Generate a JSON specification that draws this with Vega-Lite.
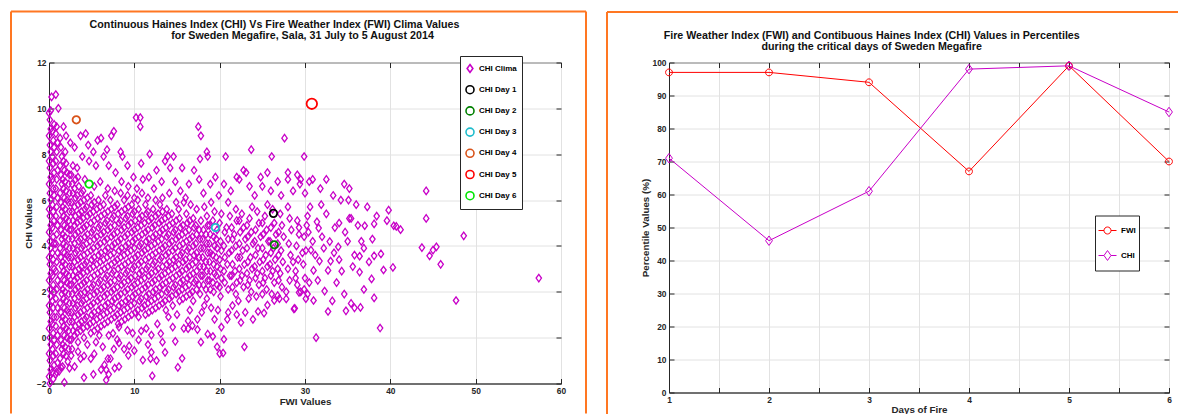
{
"$schema": "https://vega.github.io/schema/vega-lite/v6.json",
"background": "#ffffff",
"padding": {"left": 9, "top": 9.5, "right": 0, "bottom": 0},
"spacing": 17,
"columns": 2,
"bounds": "full",
"resolve": {"scale": {"color": "independent", "shape": "independent"}, "legend": {"color": "independent", "shape": "independent"}},
"config": {
  "view": {"stroke": "#262626", "strokeWidth": 1},
  "font": "Liberation Sans",
  "axis": {"labelFont": "Liberation Sans", "labelFontSize": 8.4, "labelFontWeight": "bold", "labelColor": "#262626", "titleFont": "Liberation Sans", "titleFontSize": 9.8, "titleFontWeight": "bold", "titleColor": "#262626", "gridColor": "#e2e2e2", "gridWidth": 1, "gridOpacity": 1, "tickColor": "#262626", "tickWidth": 1, "tickSize": -5, "labelPadding": 8, "domainColor": "#262626", "domainWidth": 1, "labelFlush": false, "labelOverlap": false},
  "legend": {"labelFont": "Liberation Sans", "labelFontSize": 8, "labelFontWeight": "bold", "labelColor": "#000000"}
},
"datasets": {
  "days": [{"s":"CHI Day 1","f":26.3,"c":5.42},{"s":"CHI Day 2","f":26.4,"c":4.05},{"s":"CHI Day 3","f":19.5,"c":4.8},{"s":"CHI Day 4","f":3.2,"c":9.5},{"s":"CHI Day 5","f":30.8,"c":10.2},{"s":"CHI Day 6","f":4.7,"c":6.7}],
  "pct": [{"d":1,"s":"FWI","v":97},{"d":2,"s":"FWI","v":97},{"d":3,"s":"FWI","v":94},{"d":4,"s":"FWI","v":67},{"d":5,"s":"FWI","v":99},{"d":6,"s":"FWI","v":70},{"d":1,"s":"CHI","v":71},{"d":2,"s":"CHI","v":46},{"d":3,"s":"CHI","v":61},{"d":4,"s":"CHI","v":98},{"d":5,"s":"CHI","v":99},{"d":6,"s":"CHI","v":85}],
  "clima": [
{"f":0.1,"c":-2},{"f":0,"c":-1.7},{"f":0.2,"c":-1.4},{"f":0.1,"c":-1},{"f":0,"c":-0.7},{"f":0.2,"c":-0.3},{"f":0.1,"c":0},{"f":0,"c":0.4},{"f":0.2,"c":0.7},{"f":0.1,"c":1.1},{"f":0,"c":1.4},{"f":0.2,"c":1.8},{"f":0.1,"c":2.1},{"f":0,"c":2.5},{"f":0.2,"c":2.8},{"f":0.1,"c":3.2},{"f":0,"c":3.5},{"f":0.2,"c":3.9},{"f":0.1,"c":4.2},{"f":0,"c":4.6},{"f":0.2,"c":4.9},{"f":0.1,"c":5.3},{"f":0,"c":5.6},{"f":0.2,"c":6},{"f":0.1,"c":6.3},{"f":0,"c":6.7},{"f":0.2,"c":7},{"f":0.1,"c":7.4},{"f":0,"c":7.7},{"f":0.2,"c":8.1},{"f":0.1,"c":8.4},{"f":0,"c":8.8},{"f":0.2,"c":9.1},{"f":0.1,"c":9.5},{"f":0,"c":9.8},
{"f":0.5,"c":-1.8},{"f":0.4,"c":-1.5},{"f":0.6,"c":-1.2},{"f":0.5,"c":-0.8},{"f":0.4,"c":-0.5},{"f":0.6,"c":-0.1},{"f":0.5,"c":0.2},{"f":0.4,"c":0.6},{"f":0.6,"c":0.9},{"f":0.5,"c":1.3},{"f":0.4,"c":1.6},{"f":0.6,"c":2},{"f":0.5,"c":2.3},{"f":0.4,"c":2.7},{"f":0.6,"c":3},{"f":0.5,"c":3.4},{"f":0.4,"c":3.7},{"f":0.6,"c":4.1},{"f":0.5,"c":4.4},{"f":0.4,"c":4.8},{"f":0.6,"c":5.1},{"f":0.5,"c":5.5},{"f":0.4,"c":5.8},{"f":0.6,"c":6.2},{"f":0.5,"c":6.5},{"f":0.4,"c":6.9},{"f":0.6,"c":7.2},{"f":0.5,"c":7.6},{"f":0.4,"c":7.9},{"f":0.6,"c":8.3},{"f":0.5,"c":8.6},{"f":0.4,"c":9},{"f":0.6,"c":9.3},
{"f":0.9,"c":-1.5},{"f":1,"c":-1.1},{"f":0.8,"c":-0.7},{"f":0.9,"c":-0.3},{"f":1,"c":0.1},{"f":0.8,"c":0.5},{"f":0.9,"c":0.9},{"f":1,"c":1.3},{"f":0.8,"c":1.7},{"f":0.9,"c":2.1},{"f":1,"c":2.5},{"f":0.8,"c":2.9},{"f":0.9,"c":3.3},{"f":1,"c":3.7},{"f":0.8,"c":4.1},{"f":0.9,"c":4.5},{"f":1,"c":4.9},{"f":0.8,"c":5.3},{"f":0.9,"c":5.7},{"f":1,"c":6.1},{"f":0.8,"c":6.5},{"f":0.9,"c":6.9},{"f":1,"c":7.3},{"f":0.8,"c":7.7},{"f":0.9,"c":8.1},{"f":1,"c":8.5},{"f":0.8,"c":8.9},{"f":0.9,"c":9.2},{"f":0.3,"c":10.5},{"f":0.8,"c":10.6},{"f":1.1,"c":10},{"f":0.2,"c":9.9},
{"f":1.4,"c":-1.3},{"f":1.3,"c":-0.9},{"f":1.5,"c":-0.5},{"f":1.4,"c":-0.1},{"f":1.3,"c":0.3},{"f":1.5,"c":0.7},{"f":1.4,"c":1.1},{"f":1.3,"c":1.5},{"f":1.5,"c":1.9},{"f":1.4,"c":2.3},{"f":1.3,"c":2.7},{"f":1.5,"c":3.1},{"f":1.4,"c":3.5},{"f":1.3,"c":3.9},{"f":1.5,"c":4.3},{"f":1.4,"c":4.7},{"f":1.3,"c":5.1},{"f":1.5,"c":5.5},{"f":1.4,"c":5.9},{"f":1.3,"c":6.3},{"f":1.5,"c":6.7},{"f":1.4,"c":7.1},{"f":1.3,"c":7.5},{"f":1.5,"c":7.9},{"f":1.4,"c":8.3},{"f":1.3,"c":8.7},
{"f":2,"c":-0.8},{"f":1.9,"c":-0.4},{"f":2.1,"c":0},{"f":2,"c":0.4},{"f":1.9,"c":0.8},{"f":2.1,"c":1.2},{"f":2,"c":1.6},{"f":1.9,"c":2},{"f":2.1,"c":2.4},{"f":2,"c":2.8},{"f":1.9,"c":3.2},{"f":2.1,"c":3.6},{"f":2,"c":4},{"f":1.9,"c":4.4},{"f":2.1,"c":4.8},{"f":2,"c":5.2},{"f":1.9,"c":5.6},{"f":2.1,"c":6},{"f":2,"c":6.4},{"f":1.9,"c":6.8},{"f":2.1,"c":7.2},{"f":2,"c":7.6},{"f":1.9,"c":8.1},
{"f":2.7,"c":-0.5},{"f":2.6,"c":-0.1},{"f":2.8,"c":0.3},{"f":2.7,"c":0.7},{"f":2.6,"c":1.1},{"f":2.8,"c":1.5},{"f":2.7,"c":1.9},{"f":2.6,"c":2.3},{"f":2.8,"c":2.7},{"f":2.7,"c":3.1},{"f":2.6,"c":3.5},{"f":2.8,"c":3.9},{"f":2.7,"c":4.3},{"f":2.6,"c":4.7},{"f":2.8,"c":5.1},{"f":2.7,"c":5.5},{"f":2.6,"c":5.9},{"f":2.8,"c":6.3},{"f":2.7,"c":6.7},{"f":2.6,"c":7.1},{"f":2.8,"c":7.5},
{"f":3.4,"c":-0.2},{"f":3.3,"c":0.2},{"f":3.5,"c":0.6},{"f":3.4,"c":1},{"f":3.3,"c":1.4},{"f":3.5,"c":1.8},{"f":3.4,"c":2.2},{"f":3.3,"c":2.6},{"f":3.5,"c":3},{"f":3.4,"c":3.4},{"f":3.3,"c":3.8},{"f":3.5,"c":4.2},{"f":3.4,"c":4.6},{"f":3.3,"c":5},{"f":3.5,"c":5.4},{"f":3.4,"c":5.8},{"f":3.3,"c":6.2},{"f":3.5,"c":6.6},{"f":3.4,"c":7},{"f":3.3,"c":7.4},
{"f":4.1,"c":0},{"f":4,"c":0.4},{"f":4.2,"c":0.8},{"f":4.1,"c":1.2},{"f":4,"c":1.6},{"f":4.2,"c":2},{"f":4.1,"c":2.4},{"f":4,"c":2.8},{"f":4.2,"c":3.2},{"f":4.1,"c":3.6},{"f":4,"c":4},{"f":4.2,"c":4.4},{"f":4.1,"c":4.8},{"f":4,"c":5.2},{"f":4.2,"c":5.6},{"f":4.1,"c":6},{"f":4,"c":6.4},{"f":4.2,"c":6.9},
{"f":4.9,"c":0.2},{"f":4.8,"c":0.6},{"f":5,"c":1},{"f":4.9,"c":1.4},{"f":4.8,"c":1.8},{"f":5,"c":2.2},{"f":4.9,"c":2.6},{"f":4.8,"c":3},{"f":5,"c":3.4},{"f":4.9,"c":3.8},{"f":4.8,"c":4.2},{"f":5,"c":4.6},{"f":4.9,"c":5},{"f":4.8,"c":5.4},{"f":5,"c":5.8},{"f":4.9,"c":6.2},
{"f":5.7,"c":0.4},{"f":5.6,"c":0.8},{"f":5.8,"c":1.2},{"f":5.7,"c":1.6},{"f":5.6,"c":2},{"f":5.8,"c":2.4},{"f":5.7,"c":2.8},{"f":5.6,"c":3.2},{"f":5.8,"c":3.6},{"f":5.7,"c":4},{"f":5.6,"c":4.4},{"f":5.8,"c":4.8},{"f":5.7,"c":5.2},{"f":5.6,"c":5.6},{"f":5.8,"c":6},
{"f":6.5,"c":0.6},{"f":6.4,"c":1},{"f":6.6,"c":1.4},{"f":6.5,"c":1.8},{"f":6.4,"c":2.2},{"f":6.6,"c":2.6},{"f":6.5,"c":3},{"f":6.4,"c":3.4},{"f":6.6,"c":3.8},{"f":6.5,"c":4.2},{"f":6.4,"c":4.6},{"f":6.6,"c":5},{"f":6.5,"c":5.4},{"f":6.4,"c":5.8},{"f":6.6,"c":6.2},
{"f":7.3,"c":0.8},{"f":7.2,"c":1.2},{"f":7.4,"c":1.6},{"f":7.3,"c":2},{"f":7.2,"c":2.4},{"f":7.4,"c":2.8},{"f":7.3,"c":3.2},{"f":7.2,"c":3.6},{"f":7.4,"c":4},{"f":7.3,"c":4.4},{"f":7.2,"c":4.8},{"f":7.4,"c":5.2},{"f":7.3,"c":5.6},{"f":7.2,"c":6},
{"f":8.1,"c":0.6},{"f":8,"c":1},{"f":8.2,"c":1.4},{"f":8.1,"c":1.8},{"f":8,"c":2.2},{"f":8.2,"c":2.6},{"f":8.1,"c":3},{"f":8,"c":3.4},{"f":8.2,"c":3.8},{"f":8.1,"c":4.2},{"f":8,"c":4.6},{"f":8.2,"c":5},{"f":8.1,"c":5.4},{"f":8,"c":5.8},
{"f":8.9,"c":0.8},{"f":8.8,"c":1.2},{"f":9,"c":1.6},{"f":8.9,"c":2},{"f":8.8,"c":2.4},{"f":9,"c":2.8},{"f":8.9,"c":3.2},{"f":8.8,"c":3.6},{"f":9,"c":4},{"f":8.9,"c":4.4},{"f":8.8,"c":4.8},{"f":9,"c":5.2},{"f":8.9,"c":5.6},{"f":8.8,"c":6},
{"f":9.7,"c":1},{"f":9.6,"c":1.4},{"f":9.8,"c":1.8},{"f":9.7,"c":2.2},{"f":9.6,"c":2.6},{"f":9.8,"c":3},{"f":9.7,"c":3.4},{"f":9.6,"c":3.8},{"f":9.8,"c":4.2},{"f":9.7,"c":4.6},{"f":9.6,"c":5},{"f":9.8,"c":5.4},{"f":9.7,"c":5.8},
{"f":10.5,"c":0.9},{"f":10.4,"c":1.2},{"f":10.6,"c":1.6},{"f":10.5,"c":2},{"f":10.4,"c":2.4},{"f":10.6,"c":2.8},{"f":10.5,"c":3.2},{"f":10.4,"c":3.6},{"f":10.6,"c":4},{"f":10.5,"c":4.4},{"f":10.4,"c":4.8},{"f":10.6,"c":5.2},{"f":10.5,"c":5.6},{"f":10.4,"c":6},
{"f":11.3,"c":1},{"f":11.2,"c":1.4},{"f":11.4,"c":1.8},{"f":11.3,"c":2.2},{"f":11.2,"c":2.6},{"f":11.4,"c":3},{"f":11.3,"c":3.4},{"f":11.2,"c":3.8},{"f":11.4,"c":4.2},{"f":11.3,"c":4.6},{"f":11.2,"c":5},{"f":11.4,"c":5.4},{"f":11.3,"c":5.8},
{"f":12.1,"c":1.2},{"f":12,"c":1.6},{"f":12.2,"c":2},{"f":12.1,"c":2.4},{"f":12,"c":2.8},{"f":12.2,"c":3.2},{"f":12.1,"c":3.6},{"f":12,"c":4},{"f":12.2,"c":4.4},{"f":12.1,"c":4.8},{"f":12,"c":5.2},{"f":12.2,"c":5.6},
{"f":12.9,"c":1.4},{"f":12.8,"c":1.8},{"f":13,"c":2.2},{"f":12.9,"c":2.6},{"f":12.8,"c":3},{"f":13,"c":3.4},{"f":12.9,"c":3.8},{"f":12.8,"c":4.2},{"f":13,"c":4.6},{"f":12.9,"c":5},{"f":12.8,"c":5.4},{"f":13,"c":5.8},
{"f":13.7,"c":1.2},{"f":13.6,"c":1.6},{"f":13.8,"c":2},{"f":13.7,"c":2.4},{"f":13.6,"c":2.8},{"f":13.8,"c":3.2},{"f":13.7,"c":3.6},{"f":13.6,"c":4},{"f":13.8,"c":4.4},{"f":13.7,"c":4.8},{"f":13.6,"c":5.2},{"f":13.8,"c":5.6},
{"f":14.5,"c":1.4},{"f":14.4,"c":1.8},{"f":14.6,"c":2.2},{"f":14.5,"c":2.6},{"f":14.4,"c":3},{"f":14.6,"c":3.4},{"f":14.5,"c":3.8},{"f":14.4,"c":4.2},{"f":14.6,"c":4.6},{"f":14.5,"c":5},{"f":14.4,"c":5.4},
{"f":15.3,"c":1.6},{"f":15.2,"c":2},{"f":15.4,"c":2.4},{"f":15.3,"c":2.8},{"f":15.2,"c":3.2},{"f":15.4,"c":3.6},{"f":15.3,"c":4},{"f":15.2,"c":4.4},{"f":15.4,"c":4.8},{"f":15.3,"c":5.2},{"f":15.2,"c":5.6},
{"f":16.1,"c":1.8},{"f":16,"c":2.2},{"f":16.2,"c":2.6},{"f":16.1,"c":3},{"f":16,"c":3.4},{"f":16.2,"c":3.8},{"f":16.1,"c":4.2},{"f":16,"c":4.6},{"f":16.2,"c":5},{"f":16.1,"c":5.4},
{"f":16.9,"c":1.6},{"f":16.8,"c":2},{"f":17,"c":2.4},{"f":16.9,"c":2.8},{"f":16.8,"c":3.2},{"f":17,"c":3.6},{"f":16.9,"c":4},{"f":16.8,"c":4.4},{"f":17,"c":4.8},{"f":16.9,"c":5.2},
{"f":17.7,"c":1.9},{"f":17.6,"c":2.3},{"f":17.8,"c":2.7},{"f":17.7,"c":3.1},{"f":17.6,"c":3.5},{"f":17.8,"c":3.9},{"f":17.7,"c":4.3},{"f":17.6,"c":4.7},{"f":17.8,"c":5.1},
{"f":18.5,"c":1.7},{"f":18.4,"c":2.1},{"f":18.6,"c":2.5},{"f":18.5,"c":2.9},{"f":18.4,"c":3.3},{"f":18.6,"c":3.7},{"f":18.5,"c":4.1},{"f":18.4,"c":4.5},{"f":18.6,"c":4.9},{"f":18.5,"c":5.3},
{"f":19.3,"c":2},{"f":19.2,"c":2.4},{"f":19.4,"c":2.8},{"f":19.3,"c":3.2},{"f":19.2,"c":3.6},{"f":19.4,"c":4},{"f":19.3,"c":4.4},{"f":19.2,"c":5.1},{"f":19.4,"c":5.5},
{"f":20.1,"c":1.8},{"f":20,"c":2.2},{"f":20.2,"c":2.6},{"f":20.1,"c":3},{"f":20,"c":3.4},{"f":20.2,"c":3.8},{"f":20.1,"c":4.2},{"f":20,"c":5},{"f":20.2,"c":5.4},
{"f":21,"c":2.1},{"f":21.2,"c":2.7},{"f":20.9,"c":3.2},{"f":21.1,"c":3.7},{"f":21,"c":4.3},{"f":20.8,"c":4.8},{"f":21.2,"c":5.3},{"f":21,"c":5.9},
{"f":21.9,"c":1.9},{"f":22,"c":2.4},{"f":21.8,"c":2.9},{"f":22.1,"c":3.5},{"f":21.9,"c":4},{"f":21.7,"c":4.5},{"f":22,"c":5.1},{"f":21.9,"c":5.6},
{"f":22.8,"c":2.2},{"f":22.6,"c":2.7},{"f":22.9,"c":3.2},{"f":22.7,"c":3.8},{"f":23,"c":4.3},{"f":22.8,"c":4.8},{"f":22.6,"c":5.4},
{"f":23.7,"c":2},{"f":23.5,"c":2.5},{"f":23.8,"c":3},{"f":23.6,"c":3.5},{"f":23.9,"c":4.1},{"f":23.7,"c":4.6},{"f":23.5,"c":5.2},{"f":23.8,"c":5.7},
{"f":24.6,"c":2.3},{"f":24.4,"c":2.8},{"f":24.7,"c":3.3},{"f":24.5,"c":3.9},{"f":24.8,"c":4.4},{"f":24.6,"c":5},{"f":24.4,"c":5.5},
{"f":25.5,"c":2.1},{"f":25.3,"c":2.6},{"f":25.6,"c":3.1},{"f":25.4,"c":3.6},{"f":25.7,"c":4.2},{"f":25.5,"c":4.7},{"f":25.3,"c":5.3},{"f":25.6,"c":5.8},
{"f":26.4,"c":2.4},{"f":26.2,"c":2.9},{"f":26.5,"c":3.4},{"f":26.3,"c":3.9},{"f":26.6,"c":4.5},{"f":26.4,"c":5},{"f":26.2,"c":5.6},
{"f":27.3,"c":2.2},{"f":27.1,"c":2.8},{"f":27.4,"c":3.3},{"f":27.2,"c":3.8},{"f":27.5,"c":4.4},{"f":27.3,"c":4.9},{"f":27.1,"c":5.4},
{"f":28.2,"c":2.5},{"f":28,"c":3},{"f":28.3,"c":3.6},{"f":28.1,"c":4.1},{"f":28.4,"c":4.7},{"f":28.2,"c":5.2},{"f":28,"c":5.7},
{"f":29.1,"c":2.3},{"f":28.9,"c":2.9},{"f":29.2,"c":3.4},{"f":29,"c":4},{"f":29.3,"c":4.5},{"f":29.1,"c":5.1},
{"f":30,"c":2.6},{"f":29.8,"c":3.2},{"f":30.1,"c":3.8},{"f":29.9,"c":4.4},{"f":30.2,"c":4.9},
{"f":1.7,"c":9.2},{"f":2,"c":8.8},{"f":2.5,"c":8.5},{"f":3,"c":8.3},{"f":3.7,"c":8.8},{"f":4.3,"c":8.9},{"f":4.6,"c":8.4},{"f":5.2,"c":8.1},{"f":5.7,"c":8.6},{"f":6.1,"c":8.7},{"f":6.8,"c":8.2},{"f":7.3,"c":8.8},{"f":7.6,"c":9},{"f":6.4,"c":7.9},{"f":5.5,"c":7.5},{"f":4.7,"c":7.7},{"f":3.9,"c":7.9},{"f":7,"c":7.5},{"f":7.8,"c":7.2},{"f":8.4,"c":8.1},{"f":8.6,"c":7.9},{"f":9.2,"c":7.5},{"f":8.5,"c":6.8},{"f":9.3,"c":6.6},{"f":9.9,"c":7},{"f":10.2,"c":9.6},{"f":10.7,"c":9.6},{"f":10.7,"c":9.2},{"f":10.8,"c":7.6},{"f":10.3,"c":6.5},{"f":11,"c":6.9},{"f":11.8,"c":8},{"f":11.7,"c":7},{"f":12.3,"c":6.5},{"f":12.6,"c":7.3},{"f":13.2,"c":6.8},{"f":13.6,"c":7.7},{"f":13.9,"c":7.9},{"f":14.2,"c":7.4},{"f":14.6,"c":7.9},{"f":14.1,"c":6.3},{"f":14.8,"c":6.8},{"f":15.4,"c":6.4},{"f":15.6,"c":7.4},{"f":16,"c":6.1},{"f":16.4,"c":6.7},{"f":17,"c":7.3},{"f":17.5,"c":9.2},{"f":17.8,"c":8.8},{"f":17.7,"c":7.8},{"f":17.6,"c":6.9},{"f":18.1,"c":6.3},{"f":18.5,"c":8.1},{"f":18.6,"c":7.9},{"f":18.9,"c":6.7},{"f":19.5,"c":7},{"f":19.9,"c":6.2},{"f":20.7,"c":7.9},{"f":20.5,"c":6.7},{"f":21.3,"c":6.4},{"f":22,"c":7},{"f":22.3,"c":6.9},{"f":22.8,"c":7.3},{"f":23.1,"c":7.2},{"f":23.7,"c":8.2},{"f":23.5,"c":6.6},{"f":24.1,"c":6.2},{"f":24.8,"c":7},{"f":25,"c":6.6},{"f":25.6,"c":7.2},{"f":26.1,"c":7.9},{"f":26,"c":6.4},{"f":26.8,"c":6.8},{"f":27.6,"c":8.7},{"f":27.2,"c":6.2},{"f":28,"c":7.2},{"f":28,"c":6.9},{"f":28.6,"c":6.4},{"f":29.1,"c":7.1},{"f":29.5,"c":6.9},{"f":29.4,"c":6.7},{"f":29.9,"c":7.9},{"f":30,"c":6.3},{"f":30.5,"c":6.8},{"f":30.9,"c":6.9},{"f":30.6,"c":5.7},{"f":31.8,"c":6.5},{"f":32.5,"c":6.9},{"f":33.3,"c":6.2},{"f":34.6,"c":6.7},{"f":35.2,"c":6.5},{"f":34.2,"c":6},{"f":35.1,"c":6},{"f":36,"c":5.8},
{"f":5.3,"c":6.6},{"f":6,"c":6.8},{"f":6.9,"c":6.5},{"f":7.7,"c":6.4},{"f":8.4,"c":6.3},{"f":9.2,"c":6.2},{"f":10,"c":6.1},{"f":10.9,"c":6.3},{"f":11.6,"c":6.1},{"f":12.5,"c":6},{"f":13.3,"c":6.1},{"f":14.9,"c":5.9},{"f":15.8,"c":5.9},{"f":16.6,"c":5.8},{"f":17.3,"c":5.6},{"f":18.2,"c":5.7},{"f":19,"c":5.9},
{"f":31.4,"c":5.05},{"f":31.6,"c":4.78},{"f":32.9,"c":4.19},{"f":33.9,"c":3.96},{"f":33.4,"c":3.7},{"f":33,"c":3.34},{"f":32.7,"c":2.93},{"f":35.8,"c":3.6},{"f":36.4,"c":3.55},{"f":35.6,"c":3.1},{"f":36.4,"c":2.86},{"f":36.9,"c":2.1},{"f":34.6,"c":1.9},{"f":35.4,"c":1.49},{"f":34.8,"c":1.17},{"f":35.8,"c":1.3},{"f":36.5,"c":1.32},{"f":37.9,"c":4.3},{"f":38.4,"c":5.3},{"f":38.1,"c":4.96},{"f":37,"c":4.88},{"f":37.5,"c":3.3},{"f":38.1,"c":3.57},{"f":38.9,"c":3.65},{"f":37.8,"c":2.56},{"f":38.1,"c":1.73},{"f":38.8,"c":0.42},{"f":39.2,"c":2.95},{"f":40.3,"c":3.06},{"f":39.6,"c":5.1},{"f":39.8,"c":5.56},{"f":40.4,"c":4.88},{"f":40.7,"c":4.85},{"f":41.2,"c":4.71},{"f":35.2,"c":5.2},{"f":35.4,"c":5.2},{"f":34,"c":5},{"f":34.7,"c":4.6},{"f":30.7,"c":3.82},{"f":31.7,"c":3.34},{"f":31,"c":2.93},{"f":32.3,"c":2.03},{"f":32.7,"c":1.14},{"f":31,"c":1.62},{"f":28.7,"c":1.25},{"f":31.3,"c":0},
{"f":44.2,"c":6.4},{"f":44.2,"c":5.2},{"f":43.7,"c":3.93},{"f":44.6,"c":3.57},{"f":45,"c":3.82},{"f":45.4,"c":3.96},{"f":45.9,"c":3.2},{"f":48.6,"c":4.44},{"f":47.7,"c":1.62},{"f":57.4,"c":2.6},
{"f":30.4,"c":4.6},{"f":30.9,"c":4.2},{"f":31.2,"c":3.6},{"f":30.5,"c":2.4},{"f":31.5,"c":2.5},{"f":32,"c":4.4},{"f":32.2,"c":3.9},{"f":32.5,"c":5.4},{"f":33.5,"c":4.8},{"f":31.9,"c":5.8},{"f":30.3,"c":5.3},{"f":29.7,"c":3.7},{"f":29.5,"c":2},{"f":30.1,"c":1.7},{"f":29.3,"c":4.8},{"f":28.6,"c":3.3},{"f":28.9,"c":2.6},{"f":27.8,"c":2},{"f":27,"c":1.7},{"f":26.1,"c":1.9},{"f":33.7,"c":2.4},{"f":34.3,"c":2.9},{"f":33.2,"c":1.6},{"f":34,"c":3.4},{"f":35,"c":4.2},{"f":36.2,"c":4.9},{"f":36.6,"c":4.2},{"f":37.3,"c":5.7},{"f":36.9,"c":3.9},
{"f":22.9,"c":-0.4},{"f":20.5,"c":-0.07},{"f":20,"c":-0.7},{"f":20.4,"c":-0.67},{"f":18.6,"c":0.15},{"f":19.2,"c":0.05},{"f":17.4,"c":0.35},{"f":16.8,"c":0.52},{"f":16.3,"c":0.39},{"f":14.8,"c":-0.16},{"f":15.1,"c":-1.3},{"f":13.6,"c":-0.64},{"f":12.1,"c":-1.67},{"f":12,"c":-0.64},{"f":11.9,"c":-0.92},{"f":11,"c":-0.98},{"f":10,"c":-0.57},{"f":9.4,"c":-0.36},{"f":9.3,"c":-0.77},{"f":8.8,"c":-0.5},{"f":8.2,"c":-0.23},{"f":7.5,"c":0.19},{"f":8,"c":-0.09},{"f":6.9,"c":-0.92},{"f":7.2,"c":-0.92},{"f":6.5,"c":-1.19},{"f":6.1,"c":-1.4},{"f":6.7,"c":-1.4},{"f":7.7,"c":-1.33},{"f":8.2,"c":-1.26},{"f":6.7,"c":-1.85},{"f":4.1,"c":-1.74},{"f":1.8,"c":-1.95},{"f":5.3,"c":-0.71},{"f":4.9,"c":-0.92},{"f":4.1,"c":-0.8},{"f":3.7,"c":-0.92},{"f":3.4,"c":-0.61},{"f":2.6,"c":-0.78},{"f":2.2,"c":-1.05},{"f":3,"c":-1.26},{"f":2.4,"c":-1.33},{"f":1.6,"c":-1.26},{"f":1.2,"c":-1.46},{"f":0.8,"c":-1.6},
{"f":8.2,"c":0.46},{"f":9.2,"c":0.32},{"f":10.8,"c":0.29},{"f":12,"c":0.11},{"f":13.1,"c":0.18},{"f":14.5,"c":0.46},{"f":16.3,"c":0.73},{"f":17.4,"c":0.8},{"f":19.4,"c":0.8},{"f":20.2,"c":0.46},{"f":20.9,"c":0.8},{"f":22.5,"c":0.66},{"f":23.9,"c":0.8},{"f":24.5,"c":1.14},{"f":25.2,"c":1.07},{"f":25.6,"c":1.42},{"f":26.4,"c":1.62},{"f":26.8,"c":1.83},{"f":27.8,"c":1.69},{"f":28.8,"c":1.28},{"f":29.3,"c":1.97},{"f":29.9,"c":2.1},{"f":30.3,"c":1.9},
{"f":4.5,"c":-0.3},{"f":5.5,"c":-0.2},{"f":5.9,"c":0.1},{"f":6.3,"c":-0.4},{"f":7,"c":0.1},{"f":7.6,"c":-0.5},{"f":9.8,"c":0.2},{"f":10.5,"c":-0.1},{"f":11.4,"c":0.4},{"f":11.6,"c":-0.3},{"f":12.7,"c":0.6},{"f":13.3,"c":-0.2},{"f":14,"c":0.9},{"f":15,"c":1},{"f":15.8,"c":0.4},{"f":16.5,"c":1.2},{"f":17.9,"c":1.1},{"f":18.2,"c":1.4},{"f":19,"c":1.3},{"f":19.8,"c":1.2},{"f":21.5,"c":1.4},{"f":22.2,"c":1.6},{"f":23,"c":1.1},{"f":23.4,"c":1.7},{"f":24.3,"c":1.8},{"f":25,"c":1.9},{"f":21,"c":1.1},{"f":22,"c":1},{"f":5.2,"c":-1.6},{"f":7,"c":-1.6},{"f":12.6,"c":-1},{"f":15.6,"c":-0.9},{"f":19.7,"c":-0.4},{"f":17.8,"c":-0.2},
{"f":1.7,"c":-0.7},{"f":1.6,"c":-0.3},{"f":1.8,"c":0.1},{"f":1.7,"c":0.5},{"f":1.6,"c":0.9},{"f":1.8,"c":1.3},{"f":1.7,"c":1.7},{"f":1.6,"c":2.1},{"f":1.8,"c":2.5},{"f":1.7,"c":2.9},{"f":1.6,"c":3.3},{"f":1.8,"c":3.7},{"f":1.7,"c":4.1},{"f":1.6,"c":4.5},{"f":1.8,"c":4.9},{"f":1.7,"c":5.3},{"f":1.6,"c":5.7},{"f":1.8,"c":6.1},{"f":1.7,"c":6.5},{"f":1.6,"c":6.9},{"f":1.8,"c":7.3},{"f":1.7,"c":7.7},
{"f":2.3,"c":-0.5},{"f":2.4,"c":-0.1},{"f":2.3,"c":0.3},{"f":2.4,"c":0.7},{"f":2.3,"c":1.1},{"f":2.4,"c":1.5},{"f":2.3,"c":1.9},{"f":2.4,"c":2.3},{"f":2.3,"c":2.7},{"f":2.4,"c":3.1},{"f":2.3,"c":3.5},{"f":2.4,"c":3.9},{"f":2.3,"c":4.3},{"f":2.4,"c":4.7},{"f":2.3,"c":5.1},{"f":2.4,"c":5.5},{"f":2.3,"c":5.9},{"f":2.4,"c":6.3},{"f":2.3,"c":6.7},{"f":2.4,"c":7.1},
{"f":3,"c":0.1},{"f":3.1,"c":0.5},{"f":3,"c":0.9},{"f":3.1,"c":1.3},{"f":3,"c":1.7},{"f":3.1,"c":2.1},{"f":3,"c":2.5},{"f":3.1,"c":2.9},{"f":3,"c":3.3},{"f":3.1,"c":3.7},{"f":3,"c":4.1},{"f":3.1,"c":4.5},{"f":3,"c":4.9},{"f":3.1,"c":5.3},{"f":3,"c":5.7},{"f":3.1,"c":6.1},{"f":3,"c":6.5},{"f":3.1,"c":6.9},
{"f":3.7,"c":0.3},{"f":3.8,"c":0.7},{"f":3.7,"c":1.1},{"f":3.8,"c":1.5},{"f":3.7,"c":1.9},{"f":3.8,"c":2.3},{"f":3.7,"c":2.7},{"f":3.8,"c":3.1},{"f":3.7,"c":3.5},{"f":3.8,"c":3.9},{"f":3.7,"c":4.3},{"f":3.8,"c":4.7},{"f":3.7,"c":5.1},{"f":3.8,"c":5.5},{"f":3.7,"c":5.9},{"f":3.8,"c":6.3},
{"f":4.5,"c":0.5},{"f":4.4,"c":0.9},{"f":4.5,"c":1.3},{"f":4.4,"c":1.7},{"f":4.5,"c":2.1},{"f":4.4,"c":2.5},{"f":4.5,"c":2.9},{"f":4.4,"c":3.3},{"f":4.5,"c":3.7},{"f":4.4,"c":4.1},{"f":4.5,"c":4.5},{"f":4.4,"c":4.9},{"f":4.5,"c":5.3},{"f":4.4,"c":5.7},{"f":4.5,"c":6.1},
{"f":5.3,"c":0.3},{"f":5.2,"c":0.7},{"f":5.3,"c":1.1},{"f":5.2,"c":1.5},{"f":5.3,"c":1.9},{"f":5.2,"c":2.3},{"f":5.3,"c":2.7},{"f":5.2,"c":3.1},{"f":5.3,"c":3.5},{"f":5.2,"c":3.9},{"f":5.3,"c":4.3},{"f":5.2,"c":4.7},{"f":5.3,"c":5.1},{"f":5.2,"c":5.5},{"f":5.3,"c":5.9},
{"f":6.1,"c":0.5},{"f":6,"c":0.9},{"f":6.1,"c":1.3},{"f":6,"c":1.7},{"f":6.1,"c":2.1},{"f":6,"c":2.5},{"f":6.1,"c":2.9},{"f":6,"c":3.3},{"f":6.1,"c":3.7},{"f":6,"c":4.1},{"f":6.1,"c":4.5},{"f":6,"c":4.9},{"f":6.1,"c":5.3},{"f":6,"c":5.7},
{"f":6.9,"c":0.7},{"f":6.8,"c":1.1},{"f":6.9,"c":1.5},{"f":6.8,"c":1.9},{"f":6.9,"c":2.3},{"f":6.8,"c":2.7},{"f":6.9,"c":3.1},{"f":6.8,"c":3.5},{"f":6.9,"c":3.9},{"f":6.8,"c":4.3},{"f":6.9,"c":4.7},{"f":6.8,"c":5.1},{"f":6.9,"c":5.5},
{"f":7.7,"c":0.9},{"f":7.6,"c":1.3},{"f":7.7,"c":1.7},{"f":7.6,"c":2.1},{"f":7.7,"c":2.5},{"f":7.6,"c":2.9},{"f":7.7,"c":3.3},{"f":7.6,"c":3.7},{"f":7.7,"c":4.1},{"f":7.6,"c":4.5},{"f":7.7,"c":4.9},{"f":7.6,"c":5.3},{"f":7.7,"c":5.7},
{"f":8.5,"c":0.7},{"f":8.4,"c":1.1},{"f":8.5,"c":1.5},{"f":8.4,"c":1.9},{"f":8.5,"c":2.3},{"f":8.4,"c":2.7},{"f":8.5,"c":3.1},{"f":8.4,"c":3.5},{"f":8.5,"c":3.9},{"f":8.4,"c":4.3},{"f":8.5,"c":4.7},{"f":8.4,"c":5.1},{"f":8.5,"c":5.5},
{"f":9.3,"c":0.9},{"f":9.2,"c":1.3},{"f":9.3,"c":1.7},{"f":9.2,"c":2.1},{"f":9.3,"c":2.5},{"f":9.2,"c":2.9},{"f":9.3,"c":3.3},{"f":9.2,"c":3.7},{"f":9.3,"c":4.1},{"f":9.2,"c":4.5},{"f":9.3,"c":4.9},{"f":9.2,"c":5.3},{"f":9.3,"c":5.7},
{"f":10.1,"c":1.1},{"f":10,"c":1.5},{"f":10.1,"c":1.9},{"f":10,"c":2.3},{"f":10.1,"c":2.7},{"f":10,"c":3.1},{"f":10.1,"c":3.5},{"f":10,"c":3.9},{"f":10.1,"c":4.3},{"f":10,"c":4.7},{"f":10.1,"c":5.1},{"f":10,"c":5.5},
{"f":10.9,"c":1.3},{"f":10.8,"c":1.7},{"f":10.9,"c":2.1},{"f":10.8,"c":2.5},{"f":10.9,"c":2.9},{"f":10.8,"c":3.3},{"f":10.9,"c":3.7},{"f":10.8,"c":4.1},{"f":10.9,"c":4.5},{"f":10.8,"c":4.9},{"f":10.9,"c":5.3},
{"f":11.7,"c":1.1},{"f":11.6,"c":1.5},{"f":11.7,"c":1.9},{"f":11.6,"c":2.3},{"f":11.7,"c":2.7},{"f":11.6,"c":3.1},{"f":11.7,"c":3.5},{"f":11.6,"c":3.9},{"f":11.7,"c":4.3},{"f":11.6,"c":4.7},{"f":11.7,"c":5.1},{"f":11.6,"c":5.5},
{"f":12.5,"c":1.3},{"f":12.4,"c":1.7},{"f":12.5,"c":2.1},{"f":12.4,"c":2.5},{"f":12.5,"c":2.9},{"f":12.4,"c":3.3},{"f":12.5,"c":3.7},{"f":12.4,"c":4.1},{"f":12.5,"c":4.5},{"f":12.4,"c":4.9},{"f":12.5,"c":5.3},
{"f":13.3,"c":1.5},{"f":13.2,"c":1.9},{"f":13.3,"c":2.3},{"f":13.2,"c":2.7},{"f":13.3,"c":3.1},{"f":13.2,"c":3.5},{"f":13.3,"c":3.9},{"f":13.2,"c":4.3},{"f":13.3,"c":4.7},{"f":13.2,"c":5.1},{"f":13.3,"c":5.5},
{"f":14.1,"c":1.7},{"f":14,"c":2.1},{"f":14.1,"c":2.5},{"f":14,"c":2.9},{"f":14.1,"c":3.3},{"f":14,"c":3.7},{"f":14.1,"c":4.1},{"f":14,"c":4.5},{"f":14.1,"c":4.9},{"f":14,"c":5.3},
{"f":14.9,"c":1.9},{"f":14.8,"c":2.3},{"f":14.9,"c":2.7},{"f":14.8,"c":3.1},{"f":14.9,"c":3.5},{"f":14.8,"c":3.9},{"f":14.9,"c":4.3},{"f":14.8,"c":4.7},{"f":14.9,"c":5.1},
{"f":15.7,"c":1.7},{"f":15.6,"c":2.1},{"f":15.7,"c":2.5},{"f":15.6,"c":2.9},{"f":15.7,"c":3.3},{"f":15.6,"c":3.7},{"f":15.7,"c":4.1},{"f":15.6,"c":4.5},{"f":15.7,"c":4.9},
{"f":16.5,"c":1.9},{"f":16.4,"c":2.3},{"f":16.5,"c":2.7},{"f":16.4,"c":3.1},{"f":16.5,"c":3.5},{"f":16.4,"c":3.9},{"f":16.5,"c":4.3},{"f":16.4,"c":4.7},{"f":16.5,"c":5.1},
{"f":17.3,"c":2.1},{"f":17.2,"c":2.5},{"f":17.3,"c":2.9},{"f":17.2,"c":3.3},{"f":17.3,"c":3.7},{"f":17.2,"c":4.1},{"f":17.3,"c":4.5},{"f":17.2,"c":4.9},
{"f":18.1,"c":2.3},{"f":18,"c":2.7},{"f":18.1,"c":3.1},{"f":18,"c":3.5},{"f":18.1,"c":3.9},{"f":18,"c":4.3},{"f":18.1,"c":4.7},
{"f":18.9,"c":2.1},{"f":18.8,"c":2.5},{"f":18.9,"c":2.9},{"f":18.8,"c":3.3},{"f":18.9,"c":3.7},{"f":18.8,"c":4.1},{"f":18.9,"c":4.5},{"f":18.8,"c":4.9},
{"f":19.7,"c":2.3},{"f":19.6,"c":2.7},{"f":19.7,"c":3.1},{"f":19.6,"c":3.5},{"f":19.7,"c":3.9},{"f":19.6,"c":4.3},{"f":19.7,"c":4.7},
{"f":20.6,"c":2.4},{"f":20.5,"c":2.9},{"f":20.6,"c":3.5},{"f":20.5,"c":4},{"f":20.6,"c":4.6},
{"f":21.5,"c":2.2},{"f":21.4,"c":2.7},{"f":21.5,"c":3.2},{"f":21.4,"c":3.8},{"f":21.5,"c":4.3},{"f":21.4,"c":4.8},
{"f":22.4,"c":2.5},{"f":22.3,"c":3},{"f":22.4,"c":3.5},{"f":22.3,"c":4.1},{"f":22.4,"c":4.6},{"f":22.3,"c":5.1},
{"f":23.3,"c":2.3},{"f":23.2,"c":2.8},{"f":23.3,"c":3.3},{"f":23.2,"c":3.9},{"f":23.3,"c":4.4},{"f":23.2,"c":4.9},
{"f":24.2,"c":2.6},{"f":24.1,"c":3.1},{"f":24.2,"c":3.6},{"f":24.1,"c":4.2},{"f":24.2,"c":4.7},
{"f":25.1,"c":2.4},{"f":25,"c":2.9},{"f":25.1,"c":3.4},{"f":25,"c":3.9},{"f":25.1,"c":4.5},{"f":25,"c":5},
{"f":26,"c":2.7},{"f":25.9,"c":3.2},{"f":26,"c":3.7},{"f":25.9,"c":4.2},{"f":26,"c":4.8},
{"f":26.9,"c":2.5},{"f":26.8,"c":3},{"f":26.9,"c":3.6},{"f":26.8,"c":4.1},{"f":26.9,"c":4.6}
  ]
},
"concat": [
{
  "width": 512, "height": 321,
  "title": {"text": ["Continuous Haines Index (CHI) Vs Fire Weather Index (FWI) Clima Values\u2800\u2800\u2800\u2800\u2800\u2800\u2800", "for Sweden Megafire, Sala, 31 July to 5 August 2014"], "frame": "group", "anchor": "middle", "dx": -2.5, "offset": -38.8, "baseline": "alphabetic", "lineHeight": 11, "font": "Liberation Sans", "fontSize": 10.7, "fontWeight": "bold", "color": "#111111"},
  "layer": [
    {"data": {"values": [{}]}, "mark": {"type": "rule", "color": "#ff7722", "strokeWidth": 2, "clip": false},
     "encoding": {"x": {"datum": -4.453, "type": "quantitative", "scale": {"domain": [0, 60], "nice": false, "zero": false}, "axis": null}, "y": {"datum": 14.22, "type": "quantitative", "scale": {"domain": [-2, 12], "nice": false, "zero": false}, "axis": null}, "y2": {"datum": -3.31}}},
    {"data": {"values": [{}]}, "mark": {"type": "rule", "color": "#ff7722", "strokeWidth": 2, "clip": false},
     "encoding": {"x": {"datum": -4.453, "type": "quantitative", "scale": {"domain": [0, 60], "nice": false, "zero": false}, "axis": null}, "x2": {"datum": 62.93}, "y": {"datum": 14.22, "type": "quantitative", "scale": {"domain": [-2, 12], "nice": false, "zero": false}, "axis": null}}},
    {"data": {"values": [{}]}, "mark": {"type": "rule", "color": "#ff7722", "strokeWidth": 2, "clip": false},
     "encoding": {"x": {"datum": 62.93, "type": "quantitative", "scale": {"domain": [0, 60], "nice": false, "zero": false}, "axis": null}, "y": {"datum": 14.22, "type": "quantitative", "scale": {"domain": [-2, 12], "nice": false, "zero": false}, "axis": null}, "y2": {"datum": -3.31}}},
    {"data": {"name": "clima"}, "mark": {"type": "point", "filled": false, "size": 56, "strokeWidth": 1.3, "opacity": 1},
     "encoding": {
       "x": {"field": "f", "type": "quantitative", "scale": {"domain": [0, 60], "nice": false, "zero": false}, "axis": {"values": [0, 10, 20, 30, 40, 50, 60], "title": "FWI Values", "grid": true, "titlePadding": 2}},
       "y": {"field": "c", "type": "quantitative", "scale": {"domain": [-2, 12], "nice": false, "zero": false}, "axis": {"values": [-2, 0, 2, 4, 6, 8, 10, 12], "title": "CHI Values", "grid": true, "titlePadding": 3}},
       "color": {"datum": "CHI Clima", "type": "nominal",
         "scale": {"domain": ["CHI Clima", "CHI Day 1", "CHI Day 2", "CHI Day 3", "CHI Day 4", "CHI Day 5", "CHI Day 6"], "range": ["#c800c8", "#000000", "#008000", "#1fbccc", "#d95319", "#ff0000", "#00e600"]},
         "legend": {"title": null, "orient": "none", "legendX": 411, "legendY": -6.5, "padding": 5, "clipHeight": 15, "rowPadding": 6.2, "labelOffset": 4, "symbolSize": 64, "symbolStrokeWidth": 1.6, "symbolOpacity": 1, "gridAlign": "all", "strokeColor": "#262626", "fillColor": "#ffffff"}},
       "shape": {"datum": "CHI Clima", "type": "nominal",
         "scale": {"domain": ["CHI Clima", "CHI Day 1", "CHI Day 2", "CHI Day 3", "CHI Day 4", "CHI Day 5", "CHI Day 6"], "range": ["M0,-1L0.72,0L0,1L-0.72,0Z", "circle", "circle", "circle", "circle", "circle", "circle"]},
         "legend": {"title": null, "orient": "none", "legendX": 411, "legendY": -6.5, "padding": 5, "clipHeight": 15, "rowPadding": 6.2, "labelOffset": 4, "symbolSize": 64, "symbolStrokeWidth": 1.6, "symbolOpacity": 1, "gridAlign": "all", "strokeColor": "#262626", "fillColor": "#ffffff"}}
     }},
    {"data": {"name": "days"}, "mark": {"type": "point", "filled": false, "strokeWidth": 1.8, "opacity": 1},
     "encoding": {
       "x": {"field": "f", "type": "quantitative", "scale": {"domain": [0, 60], "nice": false, "zero": false}, "axis": null},
       "y": {"field": "c", "type": "quantitative", "scale": {"domain": [-2, 12], "nice": false, "zero": false}, "axis": null},
       "color": {"field": "s", "type": "nominal",
         "scale": {"domain": ["CHI Clima", "CHI Day 1", "CHI Day 2", "CHI Day 3", "CHI Day 4", "CHI Day 5", "CHI Day 6"], "range": ["#c800c8", "#000000", "#008000", "#1fbccc", "#d95319", "#ff0000", "#00e600"]},
         "legend": {"title": null, "orient": "none", "legendX": 411, "legendY": -6.5, "padding": 5, "clipHeight": 15, "rowPadding": 6.2, "labelOffset": 4, "symbolSize": 64, "symbolStrokeWidth": 1.6, "symbolOpacity": 1, "gridAlign": "all", "strokeColor": "#262626", "fillColor": "#ffffff"}},
       "shape": {"field": "s", "type": "nominal",
         "scale": {"domain": ["CHI Clima", "CHI Day 1", "CHI Day 2", "CHI Day 3", "CHI Day 4", "CHI Day 5", "CHI Day 6"], "range": ["M0,-1L0.72,0L0,1L-0.72,0Z", "circle", "circle", "circle", "circle", "circle", "circle"]},
         "legend": {"title": null, "orient": "none", "legendX": 411, "legendY": -6.5, "padding": 5, "clipHeight": 15, "rowPadding": 6.2, "labelOffset": 4, "symbolSize": 64, "symbolStrokeWidth": 1.6, "symbolOpacity": 1, "gridAlign": "all", "strokeColor": "#262626", "fillColor": "#ffffff"}},
       "size": {"condition": {"test": "datum.s === 'CHI Day 5'", "value": 110}, "value": 56}
     }},
    {"data": {"values": [{}]}, "mark": {"type": "point", "opacity": 0},
     "encoding": {
       "x": {"datum": 0, "type": "quantitative", "scale": {"domain": [0, 60], "nice": false, "zero": false}, "axis": {"orient": "top", "values": [0, 10, 20, 30, 40, 50, 60], "labels": false, "grid": false, "domain": false, "title": null}},
       "y": {"datum": 0, "type": "quantitative", "scale": {"domain": [-2, 12], "nice": false, "zero": false}, "axis": {"orient": "right", "values": [-2, 0, 2, 4, 6, 8, 10, 12], "labels": false, "grid": false, "domain": false, "title": null}}
     }}
  ],
  "resolve": {"axis": {"x": "independent", "y": "independent"}}
},
{
  "width": 500, "height": 330,
  "title": {"text": ["Fire Weather Index (FWI) and Contibuous Haines Index (CHI) Values in Percentiles", "during the critical days of Sweden Megafire"], "frame": "group", "anchor": "middle", "dx": -47.3, "offset": -49.8, "baseline": "alphabetic", "lineHeight": 11, "font": "Liberation Sans", "fontSize": 10.7, "fontWeight": "bold", "color": "#111111"},
  "layer": [
    {"data": {"values": [{}]}, "mark": {"type": "rule", "color": "#ff7722", "strokeWidth": 2, "clip": false},
     "encoding": {"x": {"datum": 0.38, "type": "quantitative", "scale": {"domain": [1, 6], "nice": false, "zero": false}, "axis": null}, "y": {"datum": 115.3, "type": "quantitative", "scale": {"domain": [0, 100], "nice": false, "zero": false}, "axis": null}, "y2": {"datum": -6.67}}},
    {"data": {"values": [{}]}, "mark": {"type": "rule", "color": "#ff7722", "strokeWidth": 2, "clip": false},
     "encoding": {"x": {"datum": 0.38, "type": "quantitative", "scale": {"domain": [1, 6], "nice": false, "zero": false}, "axis": null}, "x2": {"datum": 6.11}, "y": {"datum": 115.3, "type": "quantitative", "scale": {"domain": [0, 100], "nice": false, "zero": false}, "axis": null}}},
    {"data": {"name": "pct"}, "mark": {"type": "line", "strokeWidth": 1},
     "encoding": {
       "x": {"field": "d", "type": "quantitative", "scale": {"domain": [1, 6], "nice": false, "zero": false}, "axis": {"values": [1, 1.5, 2, 2.5, 3, 3.5, 4, 4.5, 5, 5.5, 6], "labelExpr": "datum.value % 1 === 0 ? '' + datum.value : ''", "title": "Days of Fire", "grid": true, "titlePadding": 1}},
       "y": {"field": "v", "type": "quantitative", "scale": {"domain": [0, 100], "nice": false, "zero": false}, "axis": {"values": [0, 10, 20, 30, 40, 50, 60, 70, 80, 90, 100], "title": "Percentile Values (%)", "grid": true, "titlePadding": 2}},
       "color": {"field": "s", "type": "nominal", "scale": {"domain": ["FWI", "CHI"], "range": ["#ff0000", "#c800c8"]},
         "legend": {"title": null, "orient": "none", "legendX": 426, "legendY": 153, "padding": 3, "clipHeight": 24, "rowPadding": 1, "labelOffset": 4, "symbolSize": 324, "symbolStrokeWidth": 1, "symbolOpacity": 1, "gridAlign": "all", "strokeColor": "#262626", "fillColor": "#ffffff"}}
     }},
    {"data": {"name": "pct"}, "transform": [{"filter": "datum.s === 'FWI'"}], "mark": {"type": "point", "shape": "M0.72,0A0.72,0.72,0,1,1,-0.72,0A0.72,0.72,0,1,1,0.72,0", "filled": false, "size": 90, "strokeWidth": 1, "opacity": 1},
     "encoding": {
       "x": {"field": "d", "type": "quantitative", "scale": {"domain": [1, 6], "nice": false, "zero": false}, "axis": null},
       "y": {"field": "v", "type": "quantitative", "scale": {"domain": [0, 100], "nice": false, "zero": false}, "axis": null},
       "color": {"field": "s", "type": "nominal", "scale": {"domain": ["FWI", "CHI"], "range": ["#ff0000", "#c800c8"]},
         "legend": {"title": null, "orient": "none", "legendX": 426, "legendY": 153, "padding": 3, "clipHeight": 24, "rowPadding": 1, "labelOffset": 4, "symbolSize": 324, "symbolStrokeWidth": 1, "symbolOpacity": 1, "gridAlign": "all", "strokeColor": "#262626", "fillColor": "#ffffff"}}
     }},
    {"data": {"name": "pct"}, "transform": [{"filter": "datum.s === 'CHI'"}], "mark": {"type": "point", "shape": "M0,-1L0.72,0L0,1L-0.72,0Z", "filled": false, "size": 90, "strokeWidth": 1, "opacity": 1},
     "encoding": {
       "x": {"field": "d", "type": "quantitative", "scale": {"domain": [1, 6], "nice": false, "zero": false}, "axis": null},
       "y": {"field": "v", "type": "quantitative", "scale": {"domain": [0, 100], "nice": false, "zero": false}, "axis": null},
       "color": {"field": "s", "type": "nominal", "scale": {"domain": ["FWI", "CHI"], "range": ["#ff0000", "#c800c8"]},
         "legend": {"title": null, "orient": "none", "legendX": 426, "legendY": 153, "padding": 3, "clipHeight": 24, "rowPadding": 1, "labelOffset": 4, "symbolSize": 324, "symbolStrokeWidth": 1, "symbolOpacity": 1, "gridAlign": "all", "strokeColor": "#262626", "fillColor": "#ffffff"}}
     }},
    {"data": {"name": "pct"}, "mark": {"type": "point", "filled": false, "size": 324, "strokeWidth": 1, "opacity": 0},
     "encoding": {
       "x": {"field": "d", "type": "quantitative", "scale": {"domain": [1, 6], "nice": false, "zero": false}, "axis": null},
       "y": {"field": "v", "type": "quantitative", "scale": {"domain": [0, 100], "nice": false, "zero": false}, "axis": null},
       "color": {"field": "s", "type": "nominal", "scale": {"domain": ["FWI", "CHI"], "range": ["#ff0000", "#c800c8"]},
         "legend": {"title": null, "orient": "none", "legendX": 426, "legendY": 153, "padding": 3, "clipHeight": 24, "rowPadding": 1, "labelOffset": 4, "symbolSize": 324, "symbolStrokeWidth": 1, "symbolOpacity": 1, "gridAlign": "all", "strokeColor": "#262626", "fillColor": "#ffffff"}},
       "shape": {"field": "s", "type": "nominal", "scale": {"domain": ["FWI", "CHI"], "range": ["M-1,0H-0.39M0.39,0H1M0.39,0A0.39,0.39,0,1,1,-0.39,0A0.39,0.39,0,1,1,0.39,0", "M-1,0H-0.39M0.39,0H1M0,-0.55L0.39,0L0,0.55L-0.39,0Z"]},
         "legend": {"title": null, "orient": "none", "legendX": 426, "legendY": 153, "padding": 3, "clipHeight": 24, "rowPadding": 1, "labelOffset": 4, "symbolSize": 324, "symbolStrokeWidth": 1, "symbolOpacity": 1, "gridAlign": "all", "strokeColor": "#262626", "fillColor": "#ffffff"}}
     }},
    {"data": {"values": [{}]}, "mark": {"type": "point", "opacity": 0},
     "encoding": {
       "x": {"datum": 1, "type": "quantitative", "scale": {"domain": [1, 6], "nice": false, "zero": false}, "axis": {"orient": "top", "values": [1, 1.5, 2, 2.5, 3, 3.5, 4, 4.5, 5, 5.5, 6], "labels": false, "grid": false, "domain": false, "title": null}},
       "y": {"datum": 0, "type": "quantitative", "scale": {"domain": [0, 100], "nice": false, "zero": false}, "axis": {"orient": "right", "values": [0, 10, 20, 30, 40, 50, 60, 70, 80, 90, 100], "labels": false, "grid": false, "domain": false, "title": null}}
     }}
  ],
  "resolve": {"axis": {"x": "independent", "y": "independent"}}
}
]
}
